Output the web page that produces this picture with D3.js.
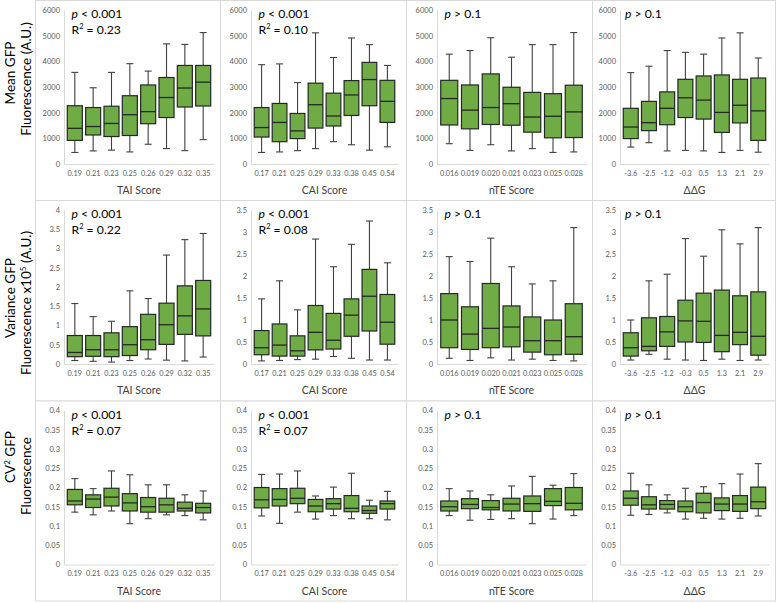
<!DOCTYPE html>
<html>
<head>
<meta charset="utf-8">
<script src="https://cdn.jsdelivr.net/npm/d3@7"></script>
<style>
  body { margin: 0; background: #fff; }
  text { font-family: Lato, "Open Sans", sans-serif; }
</style>
</head>
<body>
<script>
// x categories for the four columns
var taiCats = ["0.19", "0.21", "0.23", "0.25", "0.26", "0.29", "0.32", "0.35"];
var caiCats = ["0.17", "0.21", "0.25", "0.29", "0.33", "0.38", "0.45", "0.54"];
var nteCats = ["0.016", "0.019", "0.020", "0.021", "0.023", "0.025", "0.028"];
var ddgCats = ["-3.6", "-2.5", "-1.2", "-0.3", "0.5", "1.3", "2.1", "2.9"];

var colTitles = ["TAI Score", "CAI Score", "nTE Score", "\u0394\u0394G"];

// each box: [whisker low, q1, median, q3, whisker high]
var taiMean = [[450,920,1390,2270,3570],[510,1130,1460,2200,2970],[540,1070,1580,2250,3570],[470,1110,1920,2660,3910],[770,1570,2040,3080,3620],[600,1810,2590,3370,4680],[520,2220,2960,3840,4660],[950,2260,3190,3840,5120]];
var caiMean = [[450,1050,1420,2200,3870],[470,870,1620,2360,3900],[520,990,1290,1970,3170],[600,1400,2310,3150,5110],[870,1480,1870,2760,4150],[750,1890,2690,3250,4910],[540,2270,3290,3960,4650],[670,1620,2440,3260,3840]];
var nteMean = [[790,1520,2550,3260,4280],[530,1370,2100,3080,4420],[750,1540,2200,3510,4920],[510,1510,2350,2990,4160],[600,1240,1830,2790,4650],[450,1020,1860,2740,4650],[470,1030,2030,3070,5120]];
var ddgMean = [[660,990,1440,2170,3560],[830,1300,1610,2440,3810],[510,1530,2170,2810,4420],[530,1810,2580,3300,4350],[510,1750,2490,3430,4280],[450,1230,2010,3470,4910],[530,1600,2290,3300,5110],[460,920,2070,3350,4130]];

var taiVar = [[0.09,0.19,0.30,0.74,1.57],[0.07,0.20,0.37,0.74,1.23],[0.05,0.19,0.37,0.81,1.11],[0.09,0.22,0.50,0.97,1.90],[0.13,0.37,0.63,1.29,1.70],[0.10,0.51,1.02,1.58,2.83],[0.08,0.77,1.25,2.03,3.23],[0.18,0.73,1.43,2.17,3.39]];
var caiVar = [[0.07,0.21,0.37,0.76,1.48],[0.08,0.18,0.43,0.91,1.89],[0.10,0.18,0.30,0.64,1.23],[0.11,0.32,0.72,1.33,2.84],[0.17,0.34,0.54,1.15,2.21],[0.13,0.63,1.11,1.48,2.72],[0.09,0.75,1.54,2.15,3.25],[0.09,0.45,0.95,1.58,2.30]];
var nteVar = [[0.13,0.37,1.00,1.60,2.44],[0.08,0.33,0.68,1.30,2.33],[0.14,0.37,0.81,1.83,2.86],[0.09,0.39,0.84,1.32,2.21],[0.11,0.27,0.53,1.07,1.82],[0.08,0.21,0.53,1.00,1.89],[0.07,0.22,0.62,1.37,3.10]];
var ddgVar = [[0.09,0.18,0.37,0.71,1.00],[0.22,0.30,0.40,1.05,1.89],[0.11,0.40,0.73,1.08,2.04],[0.09,0.50,0.98,1.45,2.85],[0.08,0.49,0.97,1.61,2.45],[0.11,0.28,0.65,1.68,3.05],[0.08,0.44,0.72,1.55,2.73],[0.09,0.20,0.63,1.64,3.10]];

var taiCv = [[0.136,0.155,0.165,0.195,0.223],[0.129,0.148,0.170,0.181,0.197],[0.139,0.152,0.175,0.198,0.243],[0.106,0.139,0.160,0.184,0.233],[0.119,0.136,0.150,0.174,0.207],[0.129,0.136,0.155,0.172,0.207],[0.127,0.139,0.146,0.162,0.181],[0.116,0.134,0.148,0.159,0.191]];
var caiCv = [[0.126,0.147,0.168,0.200,0.234],[0.107,0.152,0.169,0.197,0.235],[0.136,0.158,0.172,0.198,0.243],[0.118,0.137,0.152,0.169,0.178],[0.127,0.144,0.158,0.171,0.201],[0.119,0.137,0.146,0.179,0.237],[0.119,0.133,0.140,0.152,0.167],[0.116,0.144,0.158,0.165,0.190]];
var nteCv = [[0.127,0.139,0.150,0.165,0.197],[0.115,0.145,0.156,0.171,0.191],[0.117,0.142,0.148,0.166,0.181],[0.119,0.139,0.157,0.172,0.204],[0.106,0.138,0.158,0.178,0.229],[0.118,0.153,0.164,0.197,0.206],[0.127,0.142,0.159,0.200,0.236]];
var ddgCv = [[0.128,0.154,0.172,0.191,0.237],[0.130,0.144,0.155,0.176,0.207],[0.134,0.144,0.156,0.166,0.181],[0.118,0.137,0.150,0.165,0.198],[0.120,0.134,0.161,0.185,0.202],[0.118,0.140,0.157,0.173,0.210],[0.120,0.138,0.157,0.179,0.235],[0.126,0.145,0.163,0.201,0.262]];

// p value and R^2 per panel (null = no R^2 shown)
var pText = [["< 0.001", "< 0.001", "> 0.1", "> 0.1"], ["< 0.001", "< 0.001", "> 0.1", "> 0.1"], ["< 0.001", "< 0.001", "> 0.1", "> 0.1"]];
var r2Text = [["0.23", "0.10", null, null], ["0.22", "0.08", null, null], ["0.07", "0.07", null, null]];

// y axis domains and tick steps
var meanMax = [6000, 6000, 6000, 6000], meanStep = 1000;
var varMax = [4, 3.5, 3.5, 3.5], varStep = 0.5;
var cvMax = [0.4, 0.4, 0.4, 0.4], cvStep = 0.05;

var svg = d3.select("body").append("svg")
    .attr("width", 777)
    .attr("height", 603);

// layout of the grid (panel borders and plot areas)
var cols = [
  {left: 35, right: 220, x0: 64, x1: 214},
  {left: 220, right: 406, x0: 251, x1: 398},
  {left: 406, right: 592, x0: 437, x1: 586},
  {left: 592, right: 775, x0: 620, x1: 769}
];
var rows = [{top: 0.5, bottom: 200.5}, {top: 200.5, bottom: 401}, {top: 401, bottom: 601}];

var green = "#6fac46", dark = "#262626", grid = "#d9d9d9";

var cats = [taiCats, caiCats, nteCats, ddgCats];
var rowData = [
  {data: [taiMean, caiMean, nteMean, ddgMean], max: meanMax, step: meanStep, fmt: d3.format("d")},
  {data: [taiVar, caiVar, nteVar, ddgVar], max: varMax, step: varStep, fmt: function(d){ return String(+d.toFixed(2)); }},
  {data: [taiCv, caiCv, nteCv, ddgCv], max: cvMax, step: cvStep, fmt: function(d){ return String(+d.toFixed(2)); }}
];

rows.forEach(function(row, r) {
  cols.forEach(function(col, c) {
    var g = svg.append("g");

    // panel frame
    g.append("rect")
      .attr("x", col.left + 0.5).attr("y", row.top)
      .attr("width", col.right - col.left).attr("height", row.bottom - row.top)
      .attr("fill", "#fff").attr("stroke", grid).attr("stroke-width", 1);

    var rd = rowData[r];
    var yTop = row.top + 9.5, yBot = row.top + 163.5;
    var y = d3.scaleLinear().domain([0, rd.max[c]]).range([yBot, yTop]);
    var x = d3.scaleBand().domain(cats[c]).range([col.x0, col.x1]).padding(0.18);

    var yAxis = g.append("g")
      .attr("transform", "translate(" + col.x0 + ",0)")
      .call(d3.axisLeft(y)
        .tickValues(d3.range(0, rd.max[c] + rd.step / 2, rd.step))
        .tickSize(0).tickPadding(4).tickFormat(rd.fmt));
    yAxis.select(".domain").attr("stroke", grid);
    yAxis.selectAll("text").attr("fill", "#595959").style("font-size", "7.5px").style("font-family", "Lato");

    var xAxis = g.append("g")
      .attr("transform", "translate(0," + yBot + ")")
      .call(d3.axisBottom(x).tickSize(0).tickPadding(6.5));
    xAxis.select(".domain").attr("stroke", grid);
    xAxis.selectAll("text").attr("fill", "#595959").style("font-size", "7.3px").style("font-family", "Lato");

    // x axis title
    g.append("text")
      .attr("x", (col.x0 + col.x1) / 2)
      .attr("y", row.top + 193.5)
      .attr("text-anchor", "middle")
      .attr("fill", "#404040")
      .style("font-size", "10.5px")
      .text(colTitles[c]);

    // boxes
    var bw = x.bandwidth();
    var box = g.selectAll(".box")
      .data(rd.data[c].map(function(v, i){ return {cat: cats[c][i], v: v}; }))
      .enter().append("g");

    box.append("line")
      .attr("x1", function(d){ return x(d.cat) + bw / 2; })
      .attr("x2", function(d){ return x(d.cat) + bw / 2; })
      .attr("y1", function(d){ return y(d.v[0]); })
      .attr("y2", function(d){ return y(d.v[4]); })
      .attr("stroke", "#404040").attr("stroke-width", 1.1);
    [0, 4].forEach(function(k) {
      box.append("line")
        .attr("x1", function(d){ return x(d.cat) + bw / 2 - 3.5; })
        .attr("x2", function(d){ return x(d.cat) + bw / 2 + 3.5; })
        .attr("y1", function(d){ return y(d.v[k]); })
        .attr("y2", function(d){ return y(d.v[k]); })
        .attr("stroke", "#404040").attr("stroke-width", 1.1);
    });
    box.append("rect")
      .attr("x", function(d){ return x(d.cat); })
      .attr("width", bw)
      .attr("y", function(d){ return y(d.v[3]); })
      .attr("height", function(d){ return y(d.v[1]) - y(d.v[3]); })
      .attr("fill", green).attr("stroke", dark).attr("stroke-width", 1.2);
    box.append("line")
      .attr("x1", function(d){ return x(d.cat); })
      .attr("x2", function(d){ return x(d.cat) + bw; })
      .attr("y1", function(d){ return y(d.v[2]); })
      .attr("y2", function(d){ return y(d.v[2]); })
      .attr("stroke", dark).attr("stroke-width", 1.3);

    // statistics
    var sx = col.x0 + (c == 3 ? 5 : 7.5);
    var pt = g.append("text").attr("x", sx).attr("y", row.top + 17.5)
      .style("font-size", "12.2px").attr("fill", "#000");
    pt.append("tspan").style("font-style", "italic").text("p");
    pt.append("tspan").text(" " + pText[r][c]);
    if (r2Text[r][c]) {
      var rt = g.append("text").attr("x", sx).attr("y", row.top + 33.5)
        .style("font-size", "12.2px").attr("fill", "#000");
      rt.append("tspan").text("R");
      rt.append("tspan").attr("dy", -5).style("font-size", "7.5px").text("2");
      rt.append("tspan").attr("dy", 5).text(" = " + r2Text[r][c]);
    }
  });
});

// row labels (rotated)
function rowLabel(cx, cy, parts) {
  var t = svg.append("text")
    .attr("transform", "translate(" + cx + "," + cy + ") rotate(-90)")
    .attr("text-anchor", "middle")
    .attr("fill", "#000")
    .style("font-size", "13.5px");
  parts.forEach(function(p) {
    t.append("tspan").attr("dy", p.dy || 0).style("font-size", p.size || null).text(p.t);
  });
}
rowLabel(15, 73, [{t: "Mean GFP"}]);
rowLabel(31, 79, [{t: "Fluorescence (A.U.)"}]);
rowLabel(15, 298, [{t: "Variance GFP"}]);
rowLabel(31, 303, [{t: "Fluorescence x10"}, {t: "5", dy: -5, size: "8px"}, {t: " (A.U.)", dy: 5}]);
rowLabel(15, 457, [{t: "CV"}, {t: "2", dy: -5, size: "8px"}, {t: " GFP", dy: 5}]);
rowLabel(31, 476, [{t: "Fluorescence"}]);
</script>
</body>
</html>
